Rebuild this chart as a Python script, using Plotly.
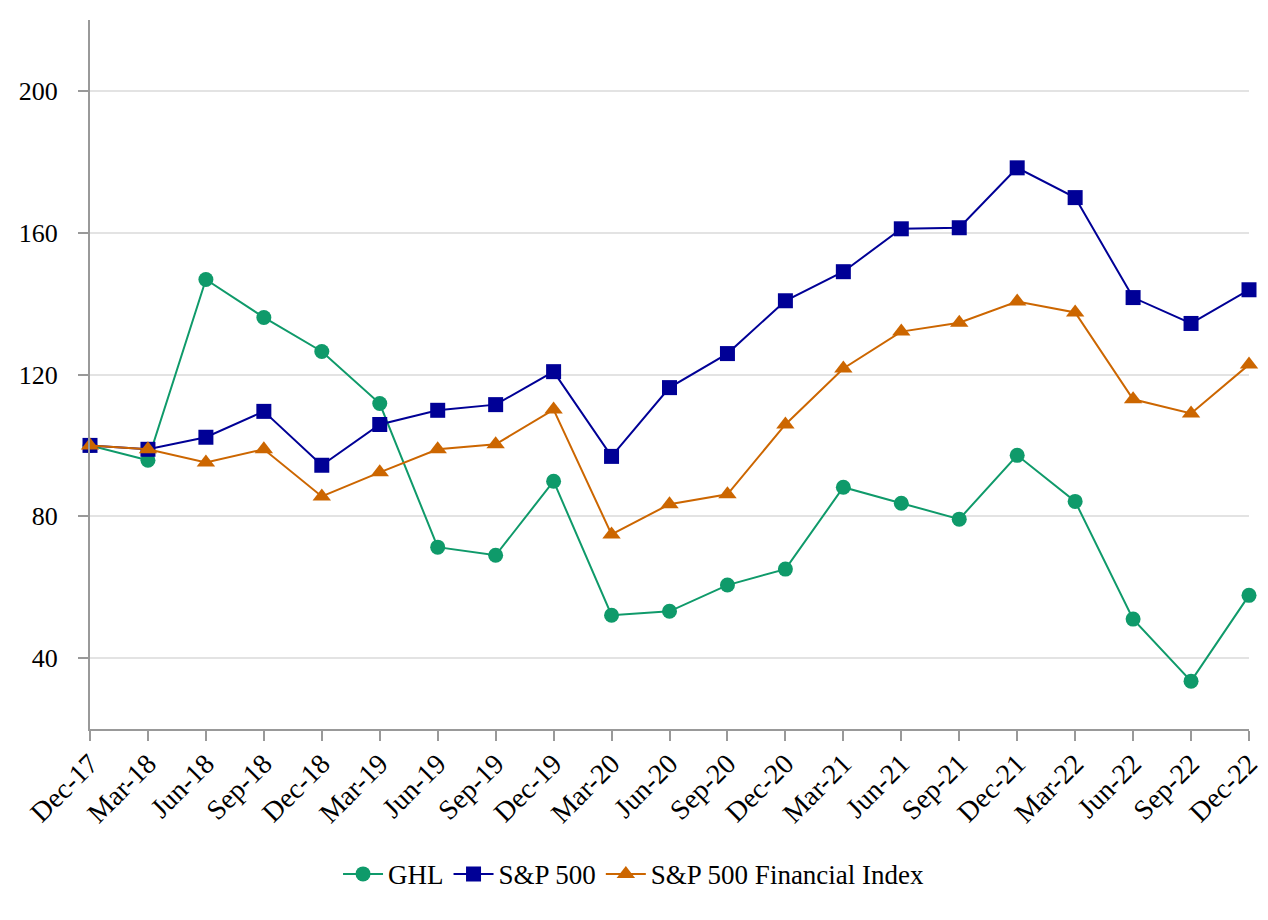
import plotly.graph_objects as go

quarters = ["Dec-17", "Mar-18", "Jun-18", "Sep-18", "Dec-18", "Mar-19", "Jun-19", "Sep-19",
            "Dec-19", "Mar-20", "Jun-20", "Sep-20", "Dec-20", "Mar-21", "Jun-21", "Sep-21",
            "Dec-21", "Mar-22", "Jun-22", "Sep-22", "Dec-22"]

ghl = [100.0, 95.8, 146.8, 136.1, 126.5, 111.8, 71.3, 69.0, 89.9, 52.1, 53.2, 60.6,
       65.1, 88.2, 83.7, 79.2, 97.2, 84.2, 51.0, 33.5, 57.7]
sp500 = [100.0, 98.9, 102.3, 109.6, 94.4, 105.9, 109.9, 111.5, 120.8, 96.9, 116.3, 125.9,
         140.8, 149.0, 161.1, 161.4, 178.3, 169.9, 141.7, 134.4, 143.9]
sp500_fin = [100.0, 98.9, 95.2, 98.9, 85.6, 92.4, 98.9, 100.3, 110.1, 74.9, 83.4, 86.2,
             105.9, 121.7, 132.1, 134.6, 140.6, 137.5, 113.0, 109.0, 122.8]

y_ticks = [40, 80, 120, 160, 200]

x_idx = list(range(len(quarters)))

fig = go.Figure()
fig.add_trace(go.Scatter(x=x_idx, y=ghl, name="GHL", mode="lines+markers", cliponaxis=False,
                         line=dict(color="#0f9a6a", width=2),
                         marker=dict(symbol="circle", size=15, color="#0f9a6a")))
fig.add_trace(go.Scatter(x=x_idx, y=sp500, name="S&P 500", mode="lines+markers", cliponaxis=False,
                         line=dict(color="#000096", width=2),
                         marker=dict(symbol="square", size=15, color="#000096")))
fig.add_trace(go.Scatter(x=x_idx, y=sp500_fin, name="S&P 500 Financial Index", mode="lines+markers",
                         cliponaxis=False,
                         line=dict(color="#cc6600", width=2),
                         marker=dict(symbol="triangle-up", size=16, color="#cc6600")))

font_family = "Liberation Serif"

fig.update_layout(
    width=1260, height=912,
    margin=dict(l=82, r=19, t=12, b=191),
    paper_bgcolor="white", plot_bgcolor="white",
    font=dict(family=font_family, size=26, color="black"),
    showlegend=True,
    legend=dict(orientation="h", x=0.4694, xanchor="center", y=-0.205, yanchor="middle",
                font=dict(family=font_family, size=27, color="black"),
                itemwidth=40, tracegroupgap=0),
    xaxis=dict(
        tickmode="array", tickvals=x_idx, ticktext=quarters,
        range=[0, len(quarters) - 1],
        tickangle=-45, automargin=False, ticklabeloverflow="allow",
        showgrid=False, zeroline=False,
        showline=True, linecolor="#999999", linewidth=2,
        ticks="outside", ticklen=10, tickcolor="#999999", tickwidth=2,
        tickfont=dict(family=font_family, size=28),
        ticklabelstandoff=-5,
    ),
    yaxis=dict(
        range=[20, 220], automargin=False,
        tickmode="array", tickvals=y_ticks,
        showgrid=True, gridcolor="#e3e3e3", gridwidth=1.5,
        zeroline=False,
        showline=True, linecolor="#999999", linewidth=2,
        ticks="outside", ticklen=10, tickcolor="#999999", tickwidth=2,
        tickfont=dict(family=font_family, size=26),
        ticklabelstandoff=15,
    ),
)

fig.write_html("out.html")
